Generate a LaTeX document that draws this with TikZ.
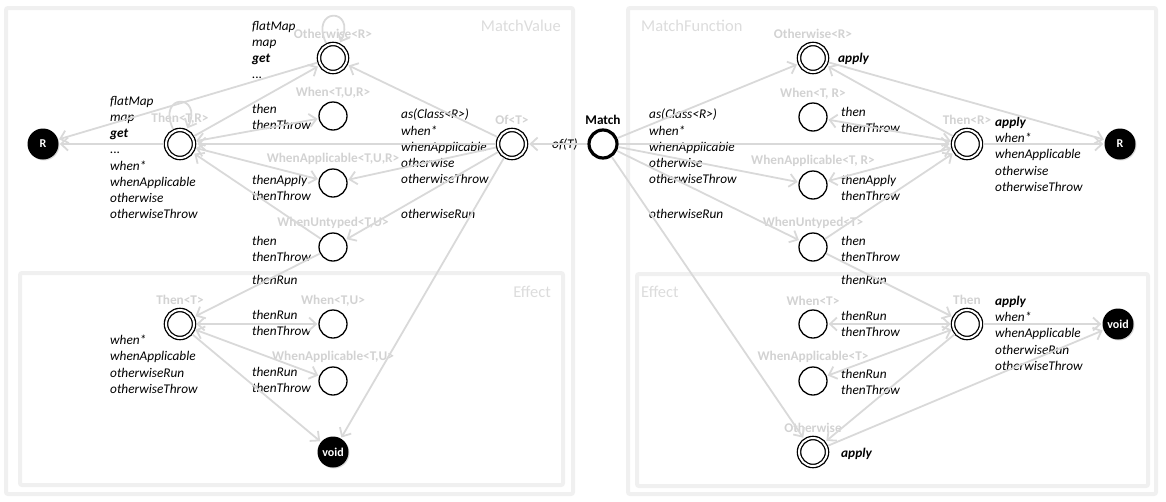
\documentclass[tikz,border=0pt]{standalone}
\usepackage{fontspec}
\setmainfont{Carlito}
\usepackage{tikz}
\usetikzlibrary{
        arrows.meta,
        automata,
        positioning,
        shadows
    }
\definecolor{edgegray}{HTML}{D9D9D9}
\definecolor{namegray}{HTML}{D2D2D2}
\definecolor{framegray}{HTML}{F0F0F0}
\definecolor{titlegray}{HTML}{DCDCDC}
\tikzset{>={Straight Barb[length=7pt,width=13pt]},shorten >=1pt,auto,node distance=2cm}
\tikzset{
    every node/.style={font=\fontsize{13.3}{16.2}\selectfont},
    every state/.style={draw,line width=1.3pt,minimum size=28pt,inner sep=0pt,fill=white},
    accepting/.style={double,double distance=2pt,outer sep=2.3pt},
    entry/.style={line width=3.2pt},
    sink/.style={circle,fill=black,text=white,minimum size=31pt,inner sep=0pt,
        font=\fontsize{12}{14}\selectfont\bfseries,
        drop shadow={opacity=.3,shadow xshift=1pt,shadow yshift=-1pt}},
    cls/.style={text=namegray,font=\fontsize{13.3}{16}\selectfont\bfseries},
    ops/.style={align=left,inner sep=0pt,anchor=north west,
        font=\fontsize{13.3}{16.2}\selectfont\itshape},
    trans/.style={draw=edgegray,line width=1.8pt},
    selfloop/.style={out=115,in=65,loop,min distance=40pt},
    boxframe/.style={draw=framegray,line width=4pt,rounded corners=2pt},
    boxtitle/.style={text=titlegray,inner sep=0pt,font=\fontsize{16.5}{18}\selectfont}
}

\begin{document}
\begin{tikzpicture}[x=1pt,y=1pt]
    \useasboundingbox (0,0) rectangle (1166,-501);
    % frames
    \draw[boxframe] (6,-8) rectangle (573,-494);
    \draw[boxframe] (20,-273) rectangle (563,-485);
    \draw[boxframe] (628,-8) rectangle (1156,-494);
    \draw[boxframe] (637,-274) rectangle (1148,-486);
    \node[boxtitle,anchor=east] (tValue)    at (561,-26)  {MatchValue};
    \node[boxtitle,anchor=west] (tFunction) at (641,-26)  {MatchFunction};
    \node[boxtitle,anchor=east] (tEffectL)  at (551,-292) {Effect};
    \node[boxtitle,anchor=west] (tEffectR)  at (641,-292) {Effect};

    % MatchValue
    \node[state,accepting] (thenTR) at (180,-144) [label={[cls]above:{Then<T,R>}}] {};
    \node[sink]            (valR)   [left of=thenTR,node distance=137pt] {R};
    \node[state,accepting] (ofT)    [right of=thenTR,node distance=332pt,label={[cls]above:{Of<T>}}] {};
    \node[state,entry]     (match)  [right of=ofT,node distance=91pt,
        label={[font=\fontsize{13.3}{16}\selectfont\bfseries]above:Match}] {};
    \node[state]           (whenApplTUR) at (333,-183) [label={[cls]above:{WhenApplicable<T,U,R>}}] {};
    \node[state]           (whenTUR)     [above of=whenApplTUR,node distance=67pt,label={[cls]above:{When<T,U,R>}}] {};
    \node[state,accepting] (otherwiseR)  [above of=whenTUR,node distance=58pt,label={[cls]above:{Otherwise<R>}}] {};
    \node[state]           (whenUntTU)   [below of=whenApplTUR,node distance=64pt,label={[cls]above:{WhenUntyped<T,U>}}] {};
    % MatchValue / Effect
    \node[state,accepting] (thenT)      at (180,-324) [label={[cls]above:{Then<T>}}] {};
    \node[state]           (whenTU)     [right of=thenT,node distance=153pt,label={[cls]above:{When<T,U>}}] {};
    \node[state]           (whenApplTU) [below of=whenTU,node distance=57pt,label={[cls]above:{WhenApplicable<T,U>}}] {};
    \node[sink]            (voidL)      [below of=whenApplTU,node distance=71pt] {void};

    % MatchFunction
    \node[state,accepting] (thenR)       [right of=match,node distance=364pt,label={[cls]above:{Then<R>}}] {};
    \node[sink]            (funR)        [right of=thenR,node distance=153pt] {R};
    \node[state]           (whenTR)      at (813,-117) [label={[cls]above:{When<T, R>}}] {};
    \node[state,accepting] (otherwiseR2) [above of=whenTR,node distance=59pt,label={[cls]above:{Otherwise<R>}}] {};
    \node[state]           (whenApplTR)  [below of=whenTR,node distance=68pt,label={[cls]above:{WhenApplicable<T, R>}}] {};
    \node[state]           (whenUntT)    [below of=whenApplTR,node distance=62pt,label={[cls]above:{WhenUntyped<T>}}] {};
    % MatchFunction / Effect
    \node[state,accepting] (thenE)      [below of=thenR,node distance=180pt,label={[cls]above:{Then}}] {};
    \node[sink]            (voidR)      [right of=thenE,node distance=151pt] {void};
    \node[state]           (whenT)      [left of=thenE,node distance=154pt,label={[cls]above:{When<T>}}] {};
    \node[state]           (whenApplT)  [below of=whenT,node distance=57pt,label={[cls]above:{WhenApplicable<T>}}] {};
    \node[state,accepting] (otherwiseE) [below of=whenApplT,node distance=71pt,label={[cls]above:{Otherwise}}] {};

    % method names
    \node[ops] (opsOtherwiseR) at (252,-21)  {flatMap\\map\\\textbf{get}\\...};
    \node[ops] (opsThenTR)     at (110,-96)  {flatMap\\map\\\textbf{get}\\...\\when*\\whenApplicable\\otherwise\\otherwiseThrow};
    \node[ops] (opsWhenTUR)    at (252,-104) {then\\thenThrow};
    \node[ops] (opsWhenApplTUR) at (252,-175) {thenApply\\thenThrow};
    \node[ops] (opsWhenUntTU)  at (252,-236) {then\\thenThrow};
    \node[ops] (opsRunTU)      at (252,-275) {thenRun};
    \node[ops] (opsOfT)        at (401,-109) {as(Class<R>)\\when*\\whenApplicable\\otherwise\\otherwiseThrow};
    \node[ops] (opsRunOfT)     at (401,-209) {otherwiseRun};
    \node[ops] (opsOf)         at (552,-139) {of(T)};
    \node[ops] (opsWhenTU)     at (252,-310) {thenRun\\thenThrow};
    \node[ops] (opsWhenApplTU) at (252,-367) {thenRun\\thenThrow};
    \node[ops] (opsThenT)      at (110,-335) {when*\\whenApplicable\\otherwiseRun\\otherwiseThrow};
    \node[ops] (opsOtherwiseR2) at (838,-53) {\textbf{apply}};
    \node[ops] (opsWhenTR)     at (841,-107) {then\\thenThrow};
    \node[ops] (opsMatch)      at (649,-109) {as(Class<R>)\\when*\\whenApplicable\\otherwise\\otherwiseThrow};
    \node[ops] (opsRunMatch)   at (649,-209) {otherwiseRun};
    \node[ops] (opsWhenApplTR) at (841,-175) {thenApply\\thenThrow};
    \node[ops] (opsWhenUntT)   at (841,-236) {then\\thenThrow};
    \node[ops] (opsRunT)       at (841,-275) {thenRun};
    \node[ops] (opsThenR)      at (995,-117) {\textbf{apply}\\when*\\whenApplicable\\otherwise\\otherwiseThrow};
    \node[ops] (opsWhenT)      at (841,-311) {thenRun\\thenThrow};
    \node[ops] (opsWhenApplT)  at (841,-369) {thenRun\\thenThrow};
    \node[ops] (opsThenE)      at (995,-296) {\textbf{apply}\\when*\\whenApplicable\\otherwiseRun\\otherwiseThrow};
    \node[ops] (opsOtherwiseE) at (841,-448) {\textbf{apply}};

    % MatchValue transitions
    \path[->,trans]
        (thenTR)      edge (valR)
        (otherwiseR)  edge (valR)
        (thenTR)      edge [selfloop] (thenTR)
        (otherwiseR)  edge [selfloop] (otherwiseR)
        (thenTR)      edge (otherwiseR)
        (thenTR)      edge [<->] (whenTUR)
        (thenTR)      edge [<->] (whenApplTUR)
        (whenUntTU)   edge (thenTR)
        (ofT)         edge (thenTR)
        (ofT)         edge (otherwiseR)
        (ofT)         edge (whenApplTUR)
        (ofT)         edge (whenUntTU)
        (ofT)         edge (voidL)
        (match)       edge (ofT)
        (whenUntTU)   edge (thenT)
        (thenT)       edge [<->] (whenTU)
        (thenT)       edge [<->] (whenApplTU)
        (thenT)       edge (voidL);
    % MatchFunction transitions
    \path[->,trans]
        (match)       edge (otherwiseR2)
        (match)       edge (thenR)
        (match)       edge (whenApplTR)
        (match)       edge (whenUntT)
        (match)       edge (otherwiseE)
        (thenR)       edge (otherwiseR2)
        (otherwiseR2) edge (funR)
        (thenR)       edge (funR)
        (thenR)       edge [<->] (whenTR)
        (thenR)       edge [<->] (whenApplTR)
        (whenUntT)    edge (thenR)
        (whenUntT)    edge (thenE)
        (thenE)       edge [<->] (whenT)
        (thenE)       edge [<->] (whenApplT)
        (thenE)       edge (otherwiseE)
        (thenE)       edge (voidR)
        (otherwiseE)  edge (voidR);
\end{tikzpicture}
\end{document}
